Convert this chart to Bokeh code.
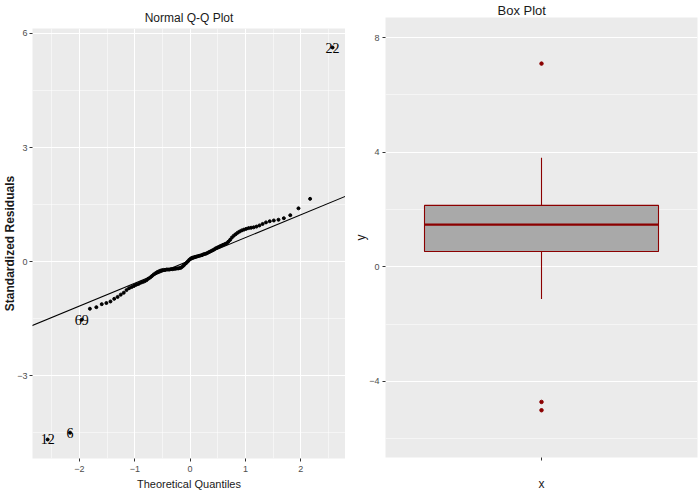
from bokeh.plotting import figure
from bokeh.layouts import row, column
from bokeh.models import Range1d, FactorRange, FixedTicker, Slope, ColumnDataSource
from bokeh.core.properties import value
from bokeh.embed import file_html
from bokeh.resources import INLINE

# ---------------- data: Normal Q-Q plot ----------------
theoretical = [
    -2.576, -2.170, -1.960, -1.812, -1.695, -1.598, -1.514, -1.440, -1.372, -1.311,
    -1.254, -1.200, -1.150, -1.103, -1.058, -1.015, -0.974, -0.935, -0.896, -0.860,
    -0.824, -0.789, -0.755, -0.722, -0.690, -0.659, -0.628, -0.598, -0.568, -0.539,
    -0.510, -0.482, -0.454, -0.426, -0.399, -0.372, -0.345, -0.319, -0.292, -0.266,
    -0.240, -0.215, -0.189, -0.164, -0.138, -0.113, -0.088, -0.063, -0.038, -0.013,
    0.013, 0.038, 0.063, 0.088, 0.113, 0.138, 0.164, 0.189, 0.215, 0.240,
    0.266, 0.292, 0.319, 0.345, 0.372, 0.399, 0.426, 0.454, 0.482, 0.510,
    0.539, 0.568, 0.598, 0.628, 0.659, 0.690, 0.722, 0.755, 0.789, 0.824,
    0.860, 0.896, 0.935, 0.974, 1.015, 1.058, 1.103, 1.150, 1.200, 1.254,
    1.311, 1.372, 1.440, 1.514, 1.598, 1.695, 1.812, 1.960, 2.170, 2.576,
]
residuals = [
    -4.68, -4.50, -1.53, -1.24, -1.20, -1.12, -1.09, -1.05, -0.98, -0.93,
    -0.87, -0.82, -0.75, -0.70, -0.67, -0.64, -0.61, -0.59, -0.56, -0.54,
    -0.52, -0.49, -0.45, -0.42, -0.38, -0.34, -0.31, -0.28, -0.26, -0.24,
    -0.23, -0.22, -0.22, -0.21, -0.21, -0.21, -0.20, -0.20, -0.19, -0.19,
    -0.18, -0.18, -0.17, -0.16, -0.13, -0.10, -0.06, -0.03, 0.01, 0.05,
    0.08, 0.10, 0.11, 0.12, 0.13, 0.14, 0.15, 0.16, 0.17, 0.19,
    0.20, 0.21, 0.23, 0.25, 0.27, 0.29, 0.31, 0.34, 0.36, 0.38,
    0.40, 0.42, 0.44, 0.46, 0.48, 0.52, 0.57, 0.63, 0.68, 0.72,
    0.76, 0.79, 0.82, 0.84, 0.86, 0.88, 0.89, 0.90, 0.92, 0.95,
    0.99, 1.03, 1.06, 1.08, 1.10, 1.14, 1.22, 1.40, 1.65, 5.63,
]
outlier_index = [0, 1, 2, 99]
outlier_ids = ["12", "6", "69", "22"]
qq_line_intercept = 0.03
qq_line_slope = 0.60
qq_xticks = [-2, -1, 0, 1, 2]
qq_xminor = [-2.5, -1.5, -0.5, 0.5, 1.5, 2.5]
qq_yticks = [-3, 0, 3, 6]
qq_yminor = [-4.5, -1.5, 1.5, 4.5]

# ---------------- data: Box plot ----------------
box_cats = [""]
box_q1 = [0.53]
box_median = [1.47]
box_q3 = [2.14]
box_lower = [-1.13]
box_upper = [3.80]
box_outliers = [7.09, -4.72, -5.01]
box_yticks = [-4, 0, 4, 8]
box_yminor = [-6, -2, 2, 6]

PANEL = "#EBEBEB"
FONT = "Liberation Sans"
TICK_COLOR = "#4D4D4D"
DARKRED = "#8B0000"


def style(p):
    p.background_fill_color = PANEL
    p.border_fill_color = "white"
    p.outline_line_color = None
    for ax in p.axis:
        ax.axis_line_color = None
        ax.major_tick_line_color = "#333333"
        ax.major_tick_out = 3
        ax.major_tick_in = 0
        ax.minor_tick_line_color = None
        ax.major_label_text_font = FONT
        ax.major_label_text_font_size = "9px"
        ax.major_label_text_color = TICK_COLOR
        ax.axis_label_text_font = FONT
        ax.axis_label_text_font_style = "normal"
        ax.axis_label_text_color = "#1A1A1A"
    for g in p.grid:
        g.grid_line_color = "white"
        g.grid_line_width = 1.1
        g.minor_grid_line_color = "white"
        g.minor_grid_line_width = 0.5
    p.title.text_font = FONT
    p.title.text_font_style = "normal"
    p.title.text_color = "#1A1A1A"


# ---------------- left: Q-Q plot ----------------
p1 = figure(width=345, height=494, output_backend="svg", toolbar_location=None,
            x_range=Range1d(-2.85, 2.81), y_range=Range1d(-5.18, 6.13),
            title="Normal Q-Q Plot",
            min_border_left=25, min_border_right=0, min_border_top=28, min_border_bottom=36)
p1.xaxis.ticker = FixedTicker(ticks=qq_xticks, minor_ticks=qq_xminor)
p1.yaxis.ticker = FixedTicker(ticks=qq_yticks, minor_ticks=qq_yminor)
p1.xaxis.axis_label = "Theoretical Quantiles"
p1.yaxis.axis_label = "Standardized Residuals"
style(p1)
p1.title.align = "center"
p1.title.text_font_size = "12px"
p1.title.standoff = 8
p1.xaxis.major_label_standoff = 3
p1.yaxis.major_label_standoff = 1
p1.xaxis.axis_label_standoff = 3
p1.yaxis.axis_label_standoff = -3
p1.xaxis.axis_label_text_font_size = "11px"
p1.yaxis.axis_label_text_font_size = "12px"
p1.yaxis.axis_label_text_font_style = "bold"

src = ColumnDataSource(dict(x=theoretical, y=residuals))
p1.add_layout(Slope(gradient=qq_line_slope, y_intercept=qq_line_intercept,
                    line_color="black", line_width=1.1))
p1.scatter("x", "y", source=src, size=3.0, color="black")
lab_src = ColumnDataSource(dict(x=[theoretical[i] for i in outlier_index],
                                y=[residuals[i] for i in outlier_index],
                                t=outlier_ids))
p1.text("x", "y", text="t", source=lab_src, text_align="center", text_baseline="middle",
        text_font=value("Liberation Serif"), text_font_size="14px", text_color="black")

# ---------------- right: Box plot ----------------
p2 = figure(width=355, height=494, output_backend="svg", toolbar_location=None,
            x_range=FactorRange(factors=box_cats), y_range=Range1d(-6.66, 8.7),
            title="Box Plot",
            min_border_left=40, min_border_right=3, min_border_top=17, min_border_bottom=37)
p2.yaxis.ticker = FixedTicker(ticks=box_yticks, minor_ticks=box_yminor)
p2.xaxis.axis_label = "x"
p2.yaxis.axis_label = "y"
style(p2)
p2.title.align = "left"
p2.title.text_font_size = "13px"
p2.title.text_line_height = 0.5
p2.title.standoff = 0
p2.title.offset = 112
p2.xaxis.major_label_standoff = 0
p2.xaxis.axis_label_standoff = 16
p2.yaxis.major_label_standoff = 2
p2.yaxis.axis_label_standoff = -2
p2.xaxis.axis_label_text_font_size = "12px"
p2.yaxis.axis_label_text_font_size = "12px"

p2.segment(x0=box_cats, y0=box_q3, x1=box_cats, y1=box_upper, line_color=DARKRED, line_width=1.1)
p2.segment(x0=box_cats, y0=box_lower, x1=box_cats, y1=box_q1, line_color=DARKRED, line_width=1.1)
p2.vbar(x=box_cats, bottom=box_q1, top=box_q3, width=0.75,
        fill_color="#A9A9A9", line_color=DARKRED, line_width=1.1)
p2.vbar(x=box_cats, bottom=box_median, top=box_median, width=0.75,
        fill_alpha=0, line_color=DARKRED, line_width=2.4)
p2.scatter(x=box_cats * len(box_outliers), y=box_outliers, size=3.5, color=DARKRED)

layout = row(column(p1), column(p2))
open("out.html", "w").write(file_html(layout, INLINE))
